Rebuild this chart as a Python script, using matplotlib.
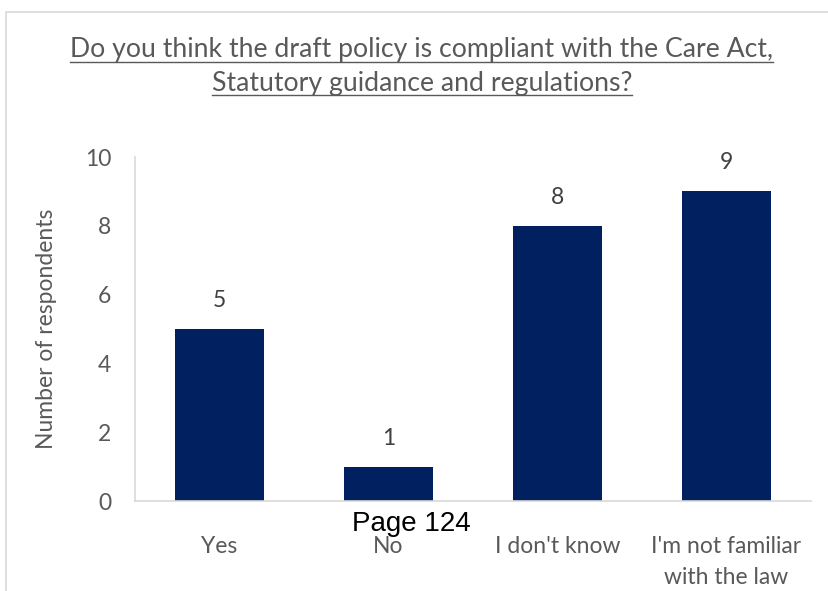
import matplotlib
matplotlib.use("Agg")
import matplotlib.pyplot as plt
from matplotlib.patches import Rectangle
from matplotlib.lines import Line2D

categories = ["Yes", "No", "I don't know", "I'm not familiar\nwith the law"]
values = [5, 1, 8, 9]
yticks = [0, 2, 4, 6, 8, 10]
title_lines = ["Do you think the draft policy is compliant with the Care Act,",
               "Statutory guidance and regulations?"]

W, H = 829, 591
fig = plt.figure(figsize=(W / 100, H / 100), dpi=100)
plt.rcParams['font.family'] = ['Lato', 'DejaVu Sans']

# outer chart frame
fig.patches.append(Rectangle((6 / W, -0.1), 1.0, 1 - 12 / H + 0.1, transform=fig.transFigure,
                             fill=False, edgecolor="#d9d9d9", linewidth=1.2, zorder=0))

ax = fig.add_axes([135 / W, 1 - 501 / H, (811 - 135) / W, (501 - 157) / H])
x = list(range(len(categories)))
bars = ax.bar(x, values, width=0.53, color="#002060", zorder=2)
ax.set_xlim(-0.5, len(categories) - 0.5)
ax.set_ylim(0, 10)
ax.set_yticks(yticks)
ax.set_yticklabels([str(t) for t in yticks], fontsize=16.5, color="#595959")
ax.set_xticks(x)
ax.set_xticklabels(categories, fontsize=16.5, color="#595959", linespacing=1.6)
ax.tick_params(axis="y", length=0, pad=17)
ax.tick_params(axis="x", length=0, pad=25)
for s in ["top", "right"]:
    ax.spines[s].set_visible(False)
for s in ["left", "bottom"]:
    ax.spines[s].set_color("#d9d9d9")
    ax.spines[s].set_linewidth(1.2)
ax.set_ylabel("Number of respondents", fontsize=16.5, color="#595959", labelpad=20)

for b, v in zip(bars, values):
    ax.annotate(str(v), (b.get_x() + b.get_width() / 2, v), xytext=(0, 13),
                textcoords="offset points", ha="center", va="bottom",
                fontsize=16.5, color="#404040")

t1 = fig.text(422 / W, 1 - 50 / H, title_lines[0],
              ha="center", va="center", fontsize=19.2, color="#595959")
t2 = fig.text(422 / W, 1 - 84 / H, title_lines[1],
              ha="center", va="center", fontsize=19.2, color="#595959")

fig.text(411 / W, 1 - 524 / H, "Page 124", ha="center", va="center", fontsize=20,
         color="black", family="Liberation Sans")

fig.canvas.draw()
r = fig.canvas.get_renderer()
for t in (t1, t2):
    bb = t.get_window_extent(r)
    y = (bb.y0 + 1) / H
    fig.lines.append(Line2D([bb.x0 / W, bb.x1 / W], [y, y], transform=fig.transFigure,
                            color="#595959", linewidth=1))

fig.savefig("out.png", dpi=100)
